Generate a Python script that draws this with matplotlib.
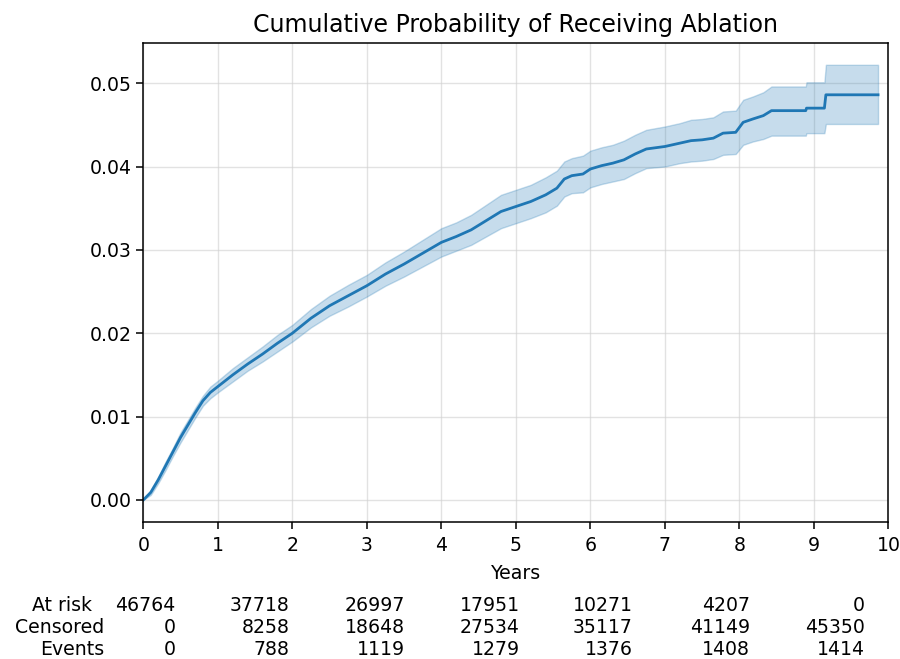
import numpy as np
import matplotlib
matplotlib.use("Agg")
import matplotlib.pyplot as plt

# ==== data ====
# the KM steps are very fine, so the curve is drawn as a line; flat stretches
# near the end are given as point pairs
years = [0, 0.1, 0.2, 0.3, 0.4, 0.5, 0.6, 0.7, 0.8, 0.9, 1.0, 1.2, 1.4, 1.6, 1.8,
         2.0, 2.25, 2.5, 2.75, 3.0, 3.25, 3.5, 3.75, 4.0, 4.2, 4.4, 4.6, 4.8,
         5.0, 5.2, 5.4, 5.55, 5.65, 5.75, 5.9, 6.0, 6.15, 6.3, 6.45, 6.6, 6.75,
         7.0, 7.2, 7.35, 7.5, 7.65, 7.78, 7.95, 8.05, 8.18, 8.32, 8.43, 8.89,
         8.9, 9.14, 9.16, 9.86]
cum_prob = [0, 0.0009, 0.0024, 0.0041, 0.0058, 0.0075, 0.0090, 0.0105, 0.0119,
            0.0129, 0.0136, 0.0150, 0.0163, 0.0175, 0.0188, 0.0200, 0.0218,
            0.0233, 0.0245, 0.0257, 0.0271, 0.0283, 0.0296, 0.0309, 0.0316,
            0.0324, 0.0335, 0.0346, 0.0352, 0.0358, 0.0366, 0.0374, 0.0385,
            0.0389, 0.0391, 0.0397, 0.0401, 0.0404, 0.0408, 0.0415, 0.0421,
            0.0424, 0.0428, 0.0431, 0.0432, 0.0434, 0.0440, 0.0441, 0.0453,
            0.0457, 0.0461, 0.0467, 0.0467, 0.0470, 0.0470, 0.0486, 0.0486]
ci_lower = [0, 0.0006, 0.0020, 0.0036, 0.0053, 0.0069, 0.0084, 0.0099, 0.0113,
            0.0122, 0.0129, 0.0142, 0.0155, 0.0166, 0.0178, 0.0190, 0.0207,
            0.0221, 0.0232, 0.0244, 0.0257, 0.0268, 0.0280, 0.0292, 0.0299,
            0.0306, 0.0316, 0.0326, 0.0332, 0.0338, 0.0345, 0.0353, 0.0364,
            0.0368, 0.0369, 0.0375, 0.0379, 0.0382, 0.0385, 0.0392, 0.0398,
            0.0400, 0.0404, 0.0406, 0.0407, 0.0409, 0.0414, 0.0415, 0.0426,
            0.0430, 0.0433, 0.0437, 0.0437, 0.0440, 0.0440, 0.0451, 0.0451]
ci_upper = [0, 0.0012, 0.0028, 0.0046, 0.0063, 0.0081, 0.0096, 0.0111, 0.0125,
            0.0136, 0.0143, 0.0158, 0.0171, 0.0184, 0.0198, 0.0210, 0.0229,
            0.0245, 0.0258, 0.0270, 0.0285, 0.0298, 0.0312, 0.0326, 0.0333,
            0.0342, 0.0354, 0.0366, 0.0372, 0.0378, 0.0387, 0.0395, 0.0406,
            0.0410, 0.0413, 0.0419, 0.0423, 0.0426, 0.0431, 0.0438, 0.0444,
            0.0448, 0.0452, 0.0456, 0.0457, 0.0459, 0.0466, 0.0467, 0.0480,
            0.0484, 0.0489, 0.0496, 0.0496, 0.0501, 0.0501, 0.0522, 0.0522]

# at-risk table
row_labels = ["At risk", "Censored", "Events"]
at_risk = [46764, 37718, 26997, 17951, 10271, 4207, 0]
censored = [0, 8258, 18648, 27534, 35117, 41149, 45350]
events = [0, 788, 1119, 1279, 1376, 1408, 1414]

# column right edges (years) and row heights (axes fraction)
col_x = [0.43, 1.96, 3.51, 5.05, 6.57, 8.14, 9.68]
row_y = [-0.174, -0.220, -0.266]
label_x = [-0.69, -0.52, -0.52]

plt.rcParams.update({
    "font.size": 13.6,
    "axes.linewidth": 1.1,
    "xtick.major.size": 4.9,
    "ytick.major.size": 4.9,
    "xtick.major.width": 1.1,
    "ytick.major.width": 1.1,
    "xtick.major.pad": 5.5,
})

fig = plt.figure(figsize=(9, 6.59), dpi=100)
ax = fig.add_axes([0.1592, 0.2083, 0.828, 0.7264])

ax.fill_between(years, ci_lower, ci_upper, color='#1f77b4',
                alpha=0.25, linewidth=1)
ax.plot(years, cum_prob, color='#1f77b4', linewidth=2.0)

ax.set_xlim(0, 10)
ax.set_xticks(range(0, 11))
ax.set_yticks([0, 0.01, 0.02, 0.03, 0.04, 0.05])
ax.yaxis.set_major_formatter(matplotlib.ticker.FormatStrFormatter('%.2f'))
ax.grid(True, color='#d0d0d0', linewidth=1, alpha=0.6)
ax.set_axisbelow(True)
ax.set_xlabel('Years', labelpad=6)
ax.set_title('Cumulative Probability of Receiving Ablation', fontsize=17, pad=8)

trans = ax.get_xaxis_transform()
rows = [at_risk, censored, events]
for lab, lx, ry, vals in zip(row_labels, label_x, row_y, rows):
    ax.text(lx, ry, lab, transform=trans, ha='right', va='center', clip_on=False)
    for cx, v in zip(col_x, vals):
        ax.text(cx, ry, str(v), transform=trans, ha='right', va='center', clip_on=False)

fig.savefig('out.png', dpi=100)
